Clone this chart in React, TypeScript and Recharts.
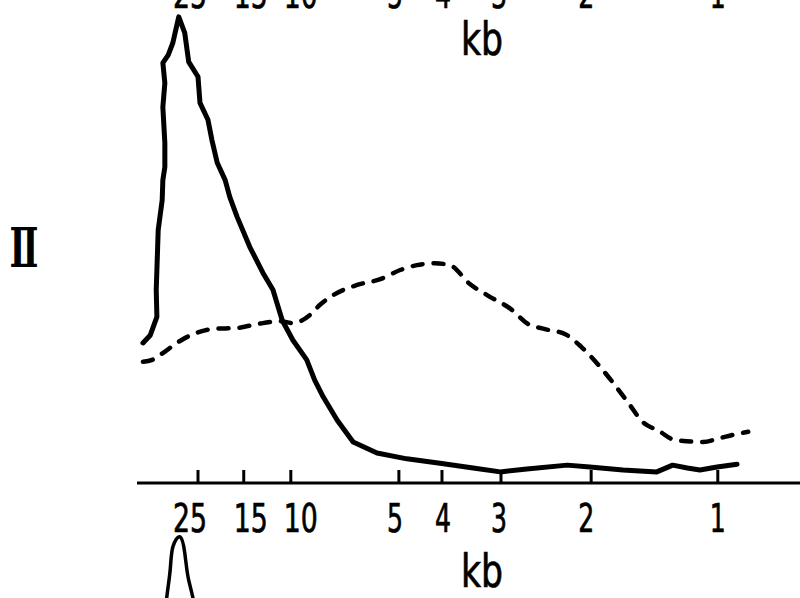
import React from 'react';
import { LineChart, Line, XAxis, YAxis, Customized } from 'recharts';

// migration distance (0-100, left to right) and densitometer signal (0-100)
const solidCurve: [number, number][] = [
  [0.9, 29.0], [2.0, 30.6], [2.4, 32.1], [3.0, 34.4], [2.9, 40.0], [3.0, 44.1],
  [3.2, 52.4], [3.8, 58.6], [3.9, 62.7], [4.2, 65.4], [4.2, 70.4], [3.9, 77.8],
  [4.2, 82.8], [3.9, 87.0], [4.7, 88.6], [5.4, 91.1], [6.3, 96.5], [7.2, 93.2],
  [7.8, 87.2], [9.2, 84.1], [9.5, 78.7], [10.7, 75.2], [11.3, 71.0], [12.1, 66.3],
  [13.3, 62.7], [14.0, 59.2], [15.1, 55.1], [17.0, 48.9], [19.0, 43.5], [20.5, 40.0],
  [21.9, 33.7], [23.5, 29.6], [25.6, 25.5], [26.8, 21.3], [28.1, 17.8], [30.2, 13.0],
  [32.6, 8.5], [36.2, 6.2], [40.7, 5.0], [45.7, 4.1], [50.7, 3.1], [54.8, 2.3],
  [58.8, 2.9], [64.9, 3.7], [68.3, 3.3], [73.3, 2.7], [78.4, 2.3], [80.8, 3.7],
  [83.0, 3.1], [84.9, 2.7], [87.5, 3.3], [90.5, 3.9],
];

const dashedCurve: [number, number][] = [
  [0.9, 25.1], [2.3, 25.5], [3.9, 26.9], [6.0, 29.0], [9.0, 31.1], [11.5, 31.9],
  [15.1, 32.1], [18.1, 32.9], [21.6, 33.5], [23.5, 33.1], [26.1, 34.8], [27.6, 36.9],
  [29.6, 38.9], [33.2, 41.0], [36.7, 42.2], [39.7, 44.1], [42.2, 45.1], [44.9, 45.5],
  [47.2, 45.1], [50.2, 41.2], [52.8, 38.9], [56.4, 36.0], [59.0, 32.9], [61.4, 31.9],
  [64.6, 30.8], [67.0, 28.2], [69.5, 24.6], [71.6, 21.1], [74.1, 16.6], [76.3, 12.6],
  [78.7, 10.8], [81.1, 8.9], [85.4, 8.5], [87.9, 9.3], [90.3, 10.1], [92.2, 10.6],
];

// top of the next panel's peak, cut off by the page edge
const nextPanelCurve: [number, number][] = [
  [4.2, 79.3], [4.5, 84.1], [5.0, 89.6], [5.4, 94.4], [6.5, 96.5],
  [7.2, 93.2], [7.7, 88.2], [8.4, 84.1], [8.9, 79.3],
];

const tickPositions = [9.2, 16.1, 23.2, 39.5, 46.0, 54.9, 68.5, 87.6];
const tickLabels = ['25', '15', '10', '5', '4', '3', '2', '1'];
const axisUnit = 'kb';
const panelLabel = 'Ⅱ';

const toRows = (pts: [number, number][]) => pts.map(([x, y]) => ({ x, y }));
const solidData = toRows(solidCurve);
const dashedData = toRows(dashedCurve);
const nextData = toRows(nextPanelCurve);

const FONT = '"DejaVu Sans Condensed", "Liberation Sans Narrow", "DejaVu Sans", sans-serif';
// the crowded labels on the left are pushed apart a little in the original
const nudge = [-8, 7, 10, -4, 1, -2, -5, 0];

const tickIndex = (v: number) => tickPositions.indexOf(v);

const TickText = ({ x, y, i }: { x: number; y: number; i: number }) => {
  const label = tickLabels[i] ?? '';
  return (
    <text
      x={x + (nudge[i] ?? 0)}
      y={y}
      textAnchor="middle"
      fontSize={39}
      fontFamily={FONT}
      fill="#000"
      stroke="#000"
      strokeWidth={0.7}
      textLength={label.length * 16 + (label.length - 1) * 2}
      lengthAdjust="spacingAndGlyphs"
    >
      {label}
    </text>
  );
};

const BottomTick = (props: any) => {
  const { x, y, payload } = props;
  return (
    <g>
      <line x1={x} x2={x} y1={y - 13} y2={y} stroke="#000" strokeWidth={3} />
      <TickText x={x} y={y + 49} i={tickIndex(payload.value)} />
    </g>
  );
};

const TopTick = (props: any) => {
  const { x, y, payload } = props;
  return <TickText x={x} y={y + 8} i={tickIndex(payload.value)} />;
};

const UnitLabel = (props: any) => {
  const { viewBox, dy } = props;
  return (
    <text
      x={viewBox.x + 345}
      y={viewBox.y + dy}
      textAnchor="middle"
      fontSize={46}
      fontFamily={FONT}
      fill="#000"
      stroke="#000"
      strokeWidth={0.7}
      textLength={42}
      lengthAdjust="spacingAndGlyphs"
    >
      {axisUnit}
    </text>
  );
};

const PanelMark = () => (
  <text
    x={24}
    y={267}
    textAnchor="middle"
    fontSize={54}
    fontWeight="bold"
    fontFamily='"DejaVu Serif", "Liberation Serif", serif'
    fill="#000"
    textLength={29}
    lengthAdjust="spacingAndGlyphs"
  >
    {panelLabel}
  </text>
);

export default function App() {
  return (
    <div style={{ position: 'absolute', left: 0, top: 0, width: 800, height: 598, background: '#fff', overflow: 'hidden' }}>
      <LineChart width={800} height={598} data={solidData} margin={{ top: -1, right: 0, left: 137, bottom: 55 }}>
        <XAxis
          dataKey="x"
          type="number"
          domain={[0, 100]}
          ticks={tickPositions}
          tick={<BottomTick />}
          tickLine={false}
          tickSize={0}
          tickMargin={0}
          height={60}
          interval={0}
          axisLine={{ stroke: '#000', strokeWidth: 3 }}
          label={<UnitLabel dy={104} />}
        />
        <XAxis
          xAxisId="top"
          orientation="top"
          dataKey="x"
          type="number"
          domain={[0, 100]}
          ticks={tickPositions}
          tick={<TopTick />}
          tickLine={false}
          tickSize={0}
          tickMargin={0}
          height={1}
          interval={0}
          axisLine={false}
          label={<UnitLabel dy={56} />}
        />
        <YAxis type="number" domain={[0, 100]} hide />
        <Line
          data={dashedData}
          dataKey="y"
          type="monotone"
          stroke="#000"
          strokeWidth={4.5}
          strokeDasharray="10 11"
          strokeLinecap="round"
          dot={false}
          isAnimationActive={false}
        />
        <Line
          data={solidData}
          dataKey="y"
          type="linear"
          stroke="#000"
          strokeWidth={5}
          strokeLinejoin="round"
          strokeLinecap="round"
          dot={false}
          isAnimationActive={false}
        />
        <Customized component={PanelMark} />
      </LineChart>
      <div style={{ position: 'absolute', left: 0, top: 520, width: 800, height: 78, overflow: 'hidden' }}>
        <LineChart width={800} height={598} margin={{ top: 0, right: 0, left: 137, bottom: 115 }}>
          <XAxis dataKey="x" type="number" domain={[0, 100]} hide />
          <YAxis type="number" domain={[0, 100]} hide />
          <Line
            data={nextData}
            dataKey="y"
            type="natural"
            stroke="#000"
            strokeWidth={3.5}
            dot={false}
            isAnimationActive={false}
          />
        </LineChart>
      </div>
    </div>
  );
}
